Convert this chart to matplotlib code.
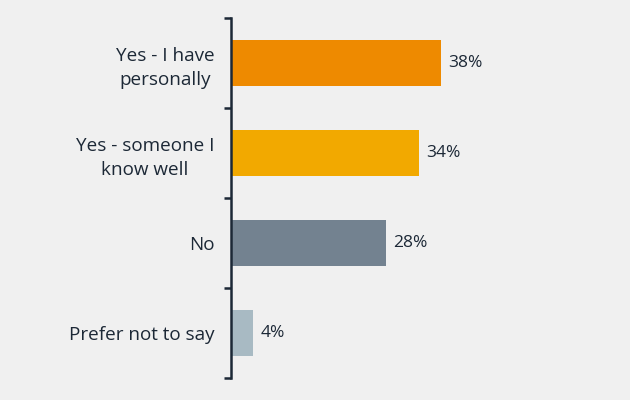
import matplotlib
matplotlib.use("Agg")
import matplotlib.pyplot as plt
import numpy as np

categories = ["Yes - I have\npersonally", "Yes - someone I\nknow well", "No", "Prefer not to say"]
values = [38, 34, 28, 4]
colors = ["#EE8A00", "#F2A900", "#738290", "#A8BAC3"]

bg = "#F0F0F0"
txt = "#1C2836"
plt.rcParams['font.family'] = ['Open Sans', 'DejaVu Sans']

fig = plt.figure(figsize=(6.3, 4.0), dpi=100, facecolor=bg)
ax = fig.add_axes([231/630, 22/400, 387/630, 360/400], facecolor=bg)

y = np.arange(len(categories))
ax.barh(y, values, height=0.51, color=colors, edgecolor="none")
ax.set_ylim(3.5, -0.5)
ax.set_xlim(0, 70)

for yi, v in zip(y, values):
    ax.text(v + 1.3, yi, f"{v}%", va="center", ha="left", fontsize=12.5, color=txt)

ax.set_yticks(np.arange(-0.5, 4.0, 1.0))
ax.set_yticklabels([])
ax.set_yticks(y, minor=True)
ax.set_yticklabels(categories, minor=True, fontsize=13.6, color=txt,
                   multialignment="center", linespacing=1.4)
ax.tick_params(axis="y", which="major", direction="out", length=5, width=1.8, color=txt)
ax.tick_params(axis="y", which="minor", length=0, pad=12)
ax.set_xticks([])
for s in ["top", "right", "bottom"]:
    ax.spines[s].set_visible(False)
ax.spines["left"].set_linewidth(1.8)
ax.spines["left"].set_color(txt)

fig.savefig("out.png", dpi=100, facecolor=bg)
